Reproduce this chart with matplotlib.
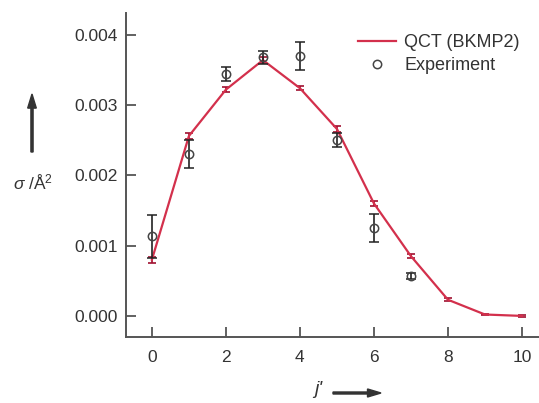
import matplotlib.pyplot as plt
from matplotlib.lines import Line2D
from matplotlib.patches import FancyArrow
import numpy as np

plt.rcParams['font.family'] = ['Liberation Sans', 'DejaVu Sans']
plt.rcParams['mathtext.fontset'] = 'custom'
plt.rcParams['mathtext.rm'] = 'Liberation Sans'
plt.rcParams['mathtext.it'] = 'Liberation Sans:italic'

# rotational quantum number
j = np.arange(0, 11)
qct = [0.00080, 0.00256, 0.00322, 0.00364, 0.00324, 0.00266, 0.00160, 0.00085, 0.00023, 0.00002, 0.0]
qctErr = [0.00004, 0.00004, 0.00004, 0.00004, 0.00003, 0.00004, 0.00003, 0.00003, 0.00002, 0.00001, 0.00001]

jExp = np.arange(0, 8)
expt = [0.00113, 0.00230, 0.00344, 0.00368, 0.00370, 0.00250, 0.00125, 0.00057]
exptErr = [0.00031, 0.00020, 0.00010, 0.00009, 0.00020, 0.00010, 0.00020, 0.00004]

red = '#d3304c'
grey = '#444444'

fig = plt.figure(figsize=(5.39, 4.03), dpi=100)
ax = fig.add_axes([126/539, 66/403, 1 - 126/539, 324/403])

ax.errorbar(j, qct, yerr=qctErr, color=red, lw=1.6, capsize=3, elinewidth=1.2,
            capthick=1.2, ecolor='#a01030', zorder=2)
ax.errorbar(jExp, expt, yerr=exptErr, fmt='o', mfc='none', mec=grey, ms=6, mew=1.1,
            ecolor='#222222', elinewidth=1.2, capsize=3.5, capthick=1.2, zorder=3)

ax.set_xlim(-0.70, 10.46)
ax.set_ylim(-0.0003, 0.00431)
ax.set_xticks([0, 2, 4, 6, 8, 10])
ax.set_yticks([0.0, 0.001, 0.002, 0.003, 0.004])
ax.set_yticklabels(['0.000', '0.001', '0.002', '0.003', '0.004'])

for s in ['top', 'right']:
    ax.spines[s].set_visible(False)
for s in ['left', 'bottom']:
    ax.spines[s].set_color('#555555')
    ax.spines[s].set_linewidth(1.4)
ax.tick_params(direction='in', length=7, width=1.3, color='#555555',
               labelsize=12.5, labelcolor='#333333')
ax.tick_params(axis='x', pad=9)
ax.tick_params(axis='y', pad=6)

handles = [Line2D([], [], color=red, lw=1.6),
           Line2D([], [], ls='none', marker='o', mfc='none', mec=grey, ms=6, mew=1.1)]
leg = ax.legend(handles, ['QCT (BKMP2)', 'Experiment'], loc='upper left',
                bbox_to_anchor=(358/539, 1 - 34/403), bbox_transform=fig.transFigure,
                frameon=False, fontsize=13, borderpad=0, borderaxespad=0,
                handlelength=2.1, handletextpad=0.45, labelspacing=0.35)
for t in leg.get_texts():
    t.set_color('#333333')

# axis labels with arrows, placed like the original figure
fig.text(33/539, 1 - 183/403, r'$σ$ /Å$^{2}$', ha='center', va='center',
         fontsize=12.5, color='#333333')
fig.patches.append(FancyArrow(
    32/539, 1 - 152/403, 0, 58/403, width=0.004, head_width=0.016,
    head_length=0.035, length_includes_head=True, color='#333333',
    transform=fig.transFigure, figure=fig))
fig.text(318/539, 1 - 390/403, "j'", ha='center', va='center', style='italic',
         fontsize=14, color='#333333')
fig.patches.append(FancyArrow(
    333/539, 1 - 393/403, 48/539, 0, width=0.005, head_width=0.02,
    head_length=0.025, length_includes_head=True, color='#333333',
    transform=fig.transFigure, figure=fig))

fig.savefig('out.png', dpi=100)
